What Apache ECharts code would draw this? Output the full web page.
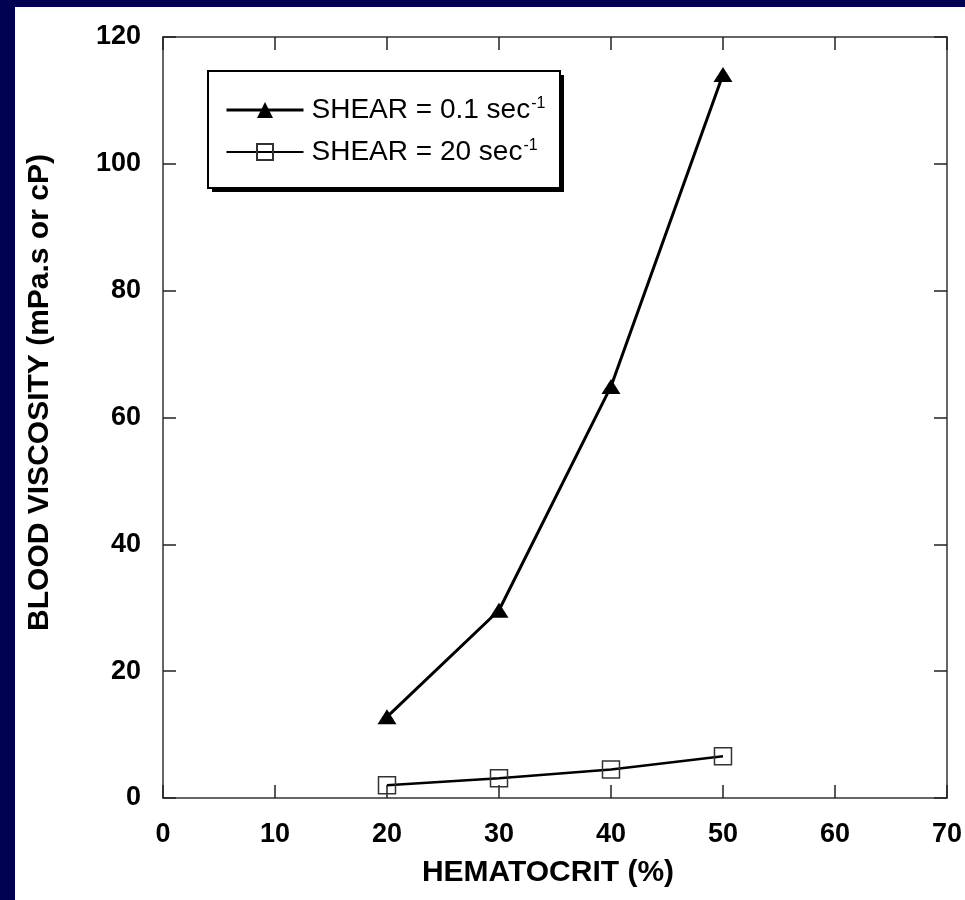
<!DOCTYPE html>
<html>
<head>
<meta charset="utf-8">
<title>Blood viscosity vs hematocrit</title>
<script src="https://cdn.jsdelivr.net/npm/echarts@6/dist/echarts.min.js"></script>
<style>
    html, body { margin: 0; padding: 0; background: #010151; }
    #main { position: absolute; left: 15px; top: 7px; width: 950px; height: 893px; background: #fff; }
</style>
</head>
<body>
<div id="main"></div>
<script>
// values
var hematocrit = [20, 30, 40, 50];
var viscShearLow = [12.8, 29.6, 64.9, 114.1];   // shear 0.1 /s
var viscShearHigh = [2.0, 3.1, 4.5, 6.6];       // shear 20 /s
var legendNames = ['SHEAR = 0.1 sec', 'SHEAR = 20 sec'];

var chart = echarts.init(document.getElementById('main'));

var pairs = function(xs, ys) {
    var out = [];
    for (var i = 0; i < xs.length; i++) {
        out.push([xs[i], ys[i]]);
    }
    return out;
};

var font = 'Liberation Sans, Arial, sans-serif';
var axisLine = { onZero: false, lineStyle: { color: '#333', width: 1.5 } };
var axisTick = { inside: true, length: 13, lineStyle: { color: '#222', width: 1.5 } };

// legend frame with the hard drop shadow
var box = { x: 193, y: 64, w: 352, h: 117 };

var option = {
    animation: false,
    grid: { left: 148, right: 18, top: 30, bottom: 102 },
    graphic: [{
        type: 'rect',
        z: 1,
        shape: { x: box.x + 4, y: box.y + 4, width: box.w, height: box.h },
        style: { fill: '#000' }
    }, {
        type: 'rect',
        z: 2,
        shape: { x: box.x, y: box.y, width: box.w, height: box.h },
        style: { fill: '#fff', stroke: '#000', lineWidth: 2 }
    }],
    legend: {
        left: box.x,
        top: box.y,
        orient: 'vertical',
        data: [{ name: legendNames[0], lineStyle: { width: 3 } }, { name: legendNames[1], lineStyle: { width: 2 } }],
        itemWidth: 77,
        itemHeight: 20,
        itemGap: 14,
        padding: [25, 16, 20, 17],
        formatter: function(name) {
            return '{t|' + name + '}{s|-1}';
        },
        textStyle: {
            rich: {
                t: { fontFamily: font, fontSize: 28, color: '#000', padding: [0, 0, 0, 3] },
                s: { fontFamily: font, fontSize: 16, color: '#000', verticalAlign: 'top', padding: [0, 0, 0, 1] }
            }
        }
    },
    xAxis: [{
        type: 'value',
        min: 0,
        max: 70,
        interval: 10,
        position: 'bottom',
        name: 'HEMATOCRIT (%)',
        nameLocation: 'middle',
        nameGap: 60,
        nameTextStyle: { fontFamily: font, fontWeight: 'bold', fontSize: 30, color: '#000', padding: [0, 14, 0, 0] },
        axisLine: axisLine,
        axisTick: axisTick,
        axisLabel: { margin: 23, fontFamily: font, fontWeight: 'bold', fontSize: 27, color: '#000' },
        splitLine: { show: false }
    }, {
        type: 'value',
        min: 0,
        max: 70,
        interval: 10,
        position: 'top',
        axisLine: axisLine,
        axisTick: axisTick,
        axisLabel: { show: false },
        splitLine: { show: false }
    }],
    yAxis: [{
        type: 'value',
        min: 0,
        max: 120,
        interval: 20,
        position: 'left',
        name: 'BLOOD VISCOSITY (mPa.s or cP)',
        nameLocation: 'middle',
        nameGap: 108,
        nameTextStyle: { fontFamily: font, fontWeight: 'bold', fontSize: 30, color: '#000', padding: [0, 0, 0, 50] },
        axisLine: axisLine,
        axisTick: axisTick,
        axisLabel: { margin: 22, fontFamily: font, fontWeight: 'bold', fontSize: 27, color: '#000' },
        splitLine: { show: false }
    }, {
        type: 'value',
        min: 0,
        max: 120,
        interval: 20,
        position: 'right',
        axisLine: axisLine,
        axisTick: axisTick,
        axisLabel: { show: false },
        splitLine: { show: false }
    }],
    series: [{
        name: legendNames[0],
        type: 'line',
        data: pairs(hematocrit, viscShearLow),
        symbol: 'triangle',
        symbolSize: [19, 15],
        lineStyle: { color: '#000', width: 3 },
        itemStyle: { color: '#000' }
    }, {
        name: legendNames[1],
        type: 'line',
        data: pairs(hematocrit, viscShearHigh),
        symbol: 'rect',
        symbolSize: 17,
        lineStyle: { color: '#000', width: 2.5 },
        itemStyle: { color: 'rgba(0,0,0,0)', borderColor: '#333', borderWidth: 1.5 }
    }]
};

chart.setOption(option);
</script>
</body>
</html>
